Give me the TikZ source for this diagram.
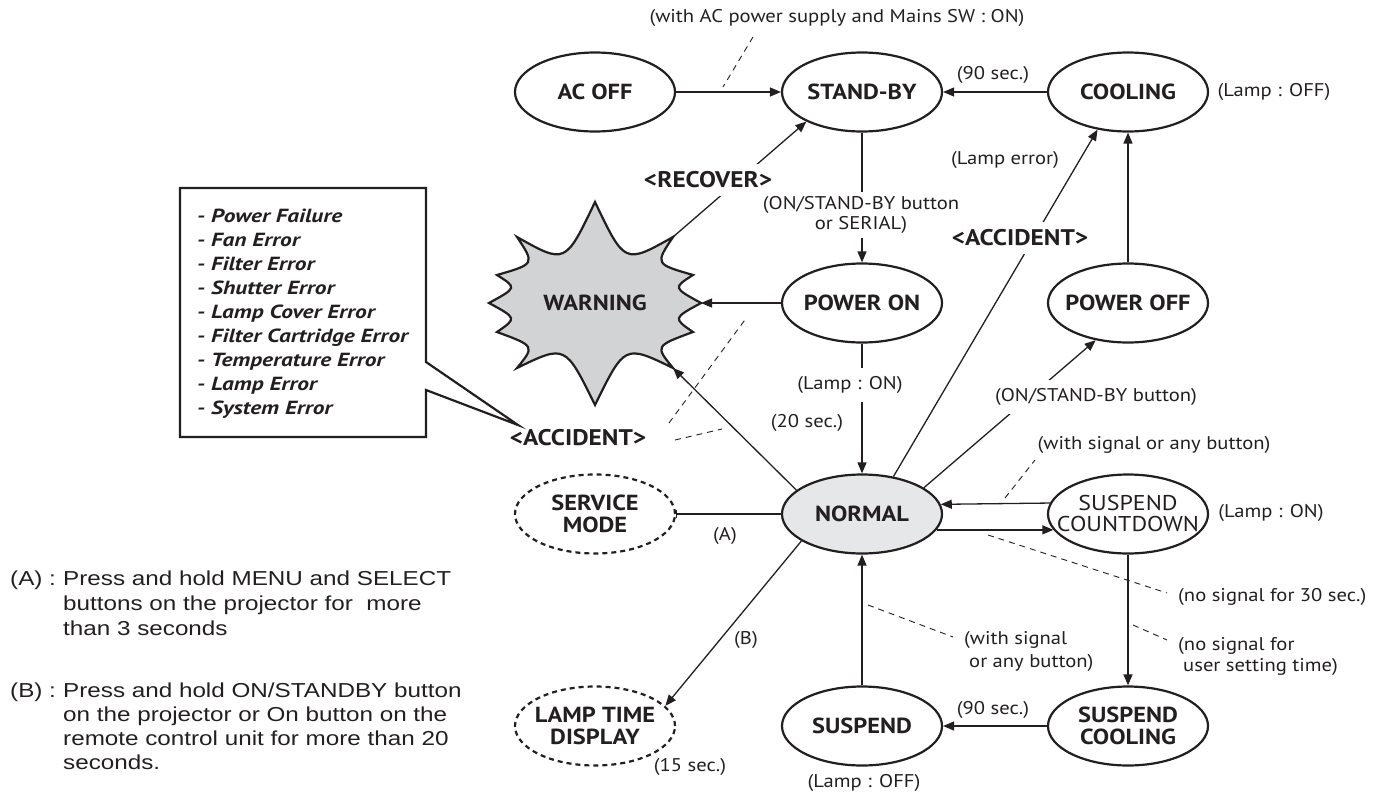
\documentclass[tikz,border=0pt]{standalone}
\usepackage{fontspec}
\setmainfont{PT Sans}[FakeStretch=1.12]
\newfontfamily\boxf{PT Sans}[FakeStretch=1.23]
\newfontfamily\arialf{Liberation Sans}[FakeStretch=1.2]
\usetikzlibrary{arrows.meta,shapes.geometric}
\definecolor{wgray}{HTML}{D1D3D4}
\definecolor{ngray}{HTML}{E6E7E8}
\definecolor{ink}{HTML}{231F20}
\begin{document}
\begin{tikzpicture}[x=1pt,y=-1pt,
  st/.style={ellipse,draw=ink,line width=2.2pt,minimum width=160pt,minimum height=79pt,inner sep=0pt},
  dst/.style={st,dash pattern=on 5pt off 4pt},
  nt/.style={font=\fontsize{21.8}{21.5}\selectfont\bfseries,text=ink,align=center,inner sep=0pt},
  ntr/.style={font=\fontsize{21.4}{21}\selectfont,text=ink,align=center,inner sep=0pt},
  lb/.style={font=\fontsize{18.4}{21}\selectfont,text=ink,align=center,inner sep=1pt},
  blb/.style={font=\fontsize{22.6}{24}\selectfont\bfseries,text=ink,inner sep=1pt},
  wlb/.style={fill=white,inner xsep=3pt,inner ysep=8pt},
  conn/.style={draw=ink,line width=1.3pt},
  arr/.style={conn,-{Triangle[length=11pt,width=9pt]}},
  lead/.style={draw=ink,line width=0.9pt,dash pattern=on 6pt off 5pt},
  fn/.style={font=\arialf\fontsize{20.2}{24}\selectfont,text=ink,anchor=base west,inner sep=0pt},
  boxst/.style={draw=ink,line width=2.2pt,fill=white,line join=miter},
]
\useasboundingbox (0,0) rectangle (1378,795);

% ---- state nodes
\node[st,label={[nt]center:AC OFF}] (acoff) at (595,92) {};
\node[st,label={[nt]center:STAND-BY}] (standby) at (862,92) {};
\node[st,label={[nt]center:COOLING}] (cooling) at (1128,92) {};
\node[st,label={[nt]center:POWER ON}] (poweron) at (862,303) {};
\node[st,label={[nt]center:POWER OFF}] (poweroff) at (1128,303) {};
\node[st,fill=ngray,label={[nt]center:NORMAL}] (normal) at (862,514) {};
\node[st,label={[ntr]center:SUSPEND\\COUNTDOWN}] (sc) at (1128,514) {};
\node[st,label={[nt]center:SUSPEND\\COOLING}] (scool) at (1128,726) {};
\node[st,label={[nt]center:SUSPEND}] (suspend) at (862,726) {};
\node[dst,label={[nt]center:SERVICE\\MODE}] (service) at (595,514) {};
\node[dst,label={[nt]center:LAMP TIME\\DISPLAY}] (lamptime) at (595,726) {};

% ---- warning star
\draw[draw=ink,line width=2.2pt,fill=wgray,line join=miter]
  (595,202) .. controls (624.7,264.2) .. (673,237)
  .. controls (655,264) .. (693,275)
  .. controls (673,287.7) .. (701,303)
  .. controls (673,318.2) .. (693,332)
  .. controls (655,346) .. (673,368)
  .. controls (624.7,344.5) .. (595,405)
  .. controls (565.3,344.5) .. (517,368)
  .. controls (535,346) .. (497,332)
  .. controls (517,318.2) .. (489,303)
  .. controls (517,287.7) .. (497,275)
  .. controls (535,264) .. (517,237)
  .. controls (565.3,264.2) .. (595,202) -- cycle;
\node[nt] (warning) at (595,303) {WARNING};
\coordinate (wUR) at (673,237);
\coordinate (wR) at (701,303);
\coordinate (wLR) at (673,368);

% ---- connectors
\draw[arr] (acoff) -- (standby);
\draw[arr] (cooling) -- (standby);
\draw[arr] (standby) -- (poweron);
\draw[arr] (poweron) -- (wR);
\draw[arr] (poweron) -- (normal);
\draw[arr] (normal.160) -- (wLR);
\draw[arr] (normal.50) -- (cooling.231);
\draw[arr] (normal.23) -- (poweroff.229);
\draw[arr] (poweroff) -- (cooling);
\draw[arr] (sc.172.6) -- (normal.7.4);
\draw[arr] (normal.-12.3) -- (sc.192.3);
\draw[arr] (sc) -- (scool);
\draw[arr] (scool) -- (suspend);
\draw[arr] (suspend) -- (normal);
\draw[arr] (wUR) -- (standby.208);
\draw[conn,{Bar[width=8pt]}-] (service) -- (normal);
\draw[arr] (normal.204) -- (lamptime.16);

% ---- dashed leaders
\coordinate (d1a) at (753,37);  \coordinate (d1b) at (723,87);
\coordinate (d2a) at (669,423); \coordinate (d2b) at (747,317);
\coordinate (d3a) at (675,440); \coordinate (d3b) at (722,429);
\coordinate (d4a) at (1005,498); \coordinate (d4b) at (1035,460);
\coordinate (d5a) at (988,535); \coordinate (d5b) at (1167,593);
\coordinate (d6a) at (1133,625); \coordinate (d6b) at (1167,640);
\coordinate (d7a) at (868,605); \coordinate (d7b) at (953,637);
\draw[lead] (d1a) -- (d1b);
\draw[lead] (d2a) -- (d2b);
\draw[lead] (d3a) -- (d3b);
\draw[lead] (d4a) -- (d4b);
\draw[lead] (d5a) -- (d5b);
\draw[lead] (d6a) -- (d6b);
\draw[lead] (d7a) -- (d7b);

% ---- labels
\node[lb] (tacsw) at (837,18) {(with AC power supply and Mains SW : ON)};
\node[lb] (t90a) at (993,75) {(90 sec.)};
\node[lb] (tlampoffa) at (1274,92) {(Lamp : OFF)};
\node[lb] (tlamperr) at (1005,160) {(Lamp error)};
\node[blb,wlb] (trecover) at (708,180) {<RECOVER>};
\node[lb,wlb,inner ysep=4pt,font=\fontsize{18.4}{20}\selectfont] (tonsb) at (861,215) {(ON/STAND-BY button\\or SERIAL)};
\node[blb,wlb] (tacc2) at (1020,238) {<ACCIDENT>};
\node[blb] (tacc1) at (578,438) {<ACCIDENT>};
\node[lb,wlb] (tlampon) at (850,385) {(Lamp : ON)};
\node[lb] (t20) at (807,423) {(20 sec.)};
\node[lb,wlb] (tonsb2) at (1096,397) {(ON/STAND-BY button)};
\node[lb] (twsig1) at (1154,445) {(with signal or any button)};
\node[lb] (tlampon2) at (1271,513) {(Lamp : ON)};
\node[lb,anchor=west] (tns30) at (1177,597) {(no signal for 30 sec.)};
\node[lb,anchor=west,align=left,font=\fontsize{18.4}{23}\selectfont] (twsig2) at (963,651) {(with signal\\\hspace*{5pt}or any button)};
\node[lb,anchor=west,align=left] (tnsu) at (1177,656) {(no signal for\\\hspace*{5pt}user setting time)};
\node[lb] (t90b) at (993,710) {(90 sec.)};
\node[lb] (tlampoffb) at (864,783) {(Lamp : OFF)};
\node[lb] (tA) at (725,536) {(A)};
\node[lb] (tB) at (746,640) {(B)};
\node[lb] (t15) at (690,767) {(15 sec.)};

% ---- callout box
\draw[boxst] (180,188) -- (426,188) -- (426,362) -- (518,425) -- (426,390) -- (426,437) -- (180,437) -- cycle;
\node[anchor=west,align=left,inner sep=0pt,text=ink,font=\boxf\fontsize{19}{24}\selectfont\bfseries\itshape] (errlist) at (197,314)
 {- Power Failure\\- Fan Error\\- Filter Error\\- Shutter Error\\- Lamp Cover Error\\- Filter Cartridge Error\\- Temperature Error\\- Lamp Error\\- System Error};

% ---- footnotes
\node[fn] (fA) at (10,585) {(A) :};
\node[fn] (fA1) at (63,585) {Press and hold MENU and SELECT};
\node[fn] (fA2) at (63,610) {buttons on the projector for\ \ more};
\node[fn] (fA3) at (63,635) {than 3 seconds};
\node[fn] (fB) at (10,697) {(B) :};
\node[fn] (fB1) at (63,697) {Press and hold ON/STANDBY button};
\node[fn] (fB2) at (63,721) {on the projector or On button on the};
\node[fn] (fB3) at (63,745) {remote control unit for more than 20};
\node[fn] (fB4) at (63,769) {seconds.};
\end{tikzpicture}
\end{document}
